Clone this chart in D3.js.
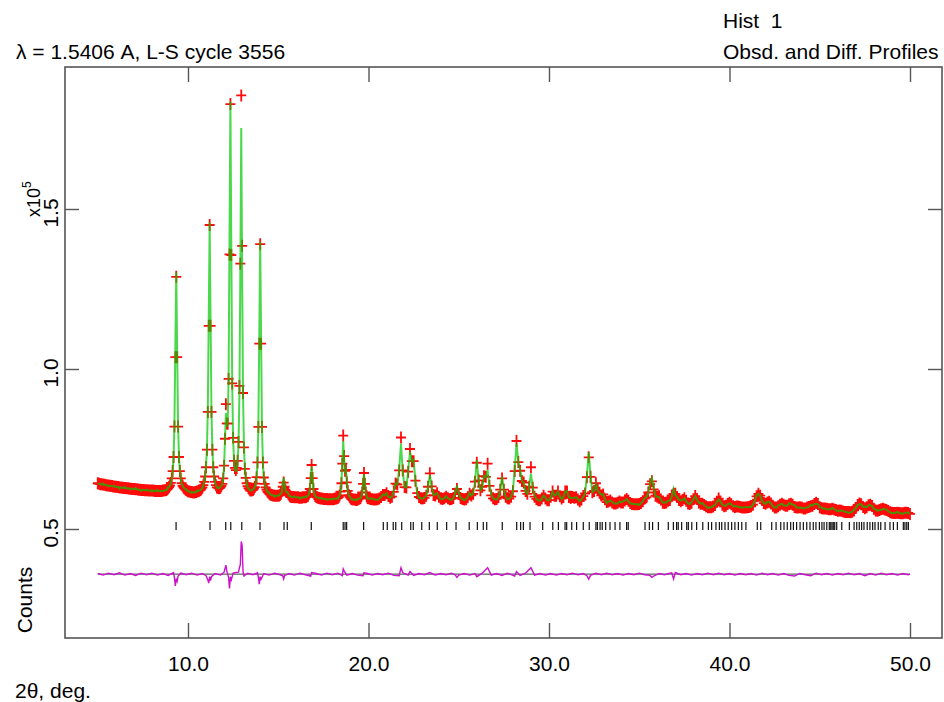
<!DOCTYPE html>
<html>
<head>
  <meta charset="UTF-8">
  <style>
    body { margin: 0; background: #fff; }
    svg { display: block; font-family: "Liberation Sans", Arial, sans-serif; }
  </style>
</head>
<body>
<svg></svg>
<script src="https://d3js.org/d3.v7.min.js"></script>

<script>

let width = 944, height = 702;

let svg = d3.select("svg")
    .attr("width", width)
    .attr("height", height);

// Observed counts (in units of 100 counts), 5.00 - 19.95 deg, step 0.05
let obsLowStart = 5.0, obsLowStep = 0.05;
let obsLow = [
  643, 642, 641, 640, 640, 639, 639, 638, 638, 637, 637, 636, 636, 635, 635, 634, 634, 633, 633, 632,
  632, 632, 631, 631, 630, 630, 630, 629, 629, 628, 628, 628, 627, 627, 627, 626, 626, 626, 625, 625,
  625, 625, 624, 624, 624, 623, 623, 623, 622, 622, 622, 622, 621, 621, 621, 621, 620, 620, 620, 620,
  620, 620, 620, 619, 619, 619, 619, 619, 619, 619, 619, 619, 620, 620, 621, 621, 622, 624, 627, 631,
  636, 644, 658, 681, 725, 820, 1037, 1288, 1037, 820, 725, 681, 658, 643, 635, 630, 627, 624, 622, 620,
  618, 617, 617, 616, 616, 615, 614, 614, 616, 616, 617, 618, 619, 621, 622, 626, 630, 637, 647, 664,
  693, 748, 866, 1135, 1450, 1135, 866, 748, 693, 664, 647, 637, 630, 629, 627, 628, 630, 635, 641, 658,
  698, 782, 890, 830, 829, 969, 1358, 1828, 1356, 955, 785, 713, 691, 684, 691, 713, 772, 947, 1329, 1855,
  1385, 925, 755, 688, 660, 643, 634, 628, 624, 620, 620, 621, 622, 626, 631, 642, 662, 708, 819, 1079,
  1390, 1079, 819, 708, 661, 641, 630, 623, 617, 614, 611, 608, 607, 606, 605, 605, 604, 604, 604, 604,
  604, 605, 607, 610, 618, 632, 645, 632, 621, 616, 616, 611, 607, 602, 601, 600, 600, 600, 599, 599,
  599, 599, 599, 598, 598, 598, 598, 599, 599, 599, 599, 600, 602, 604, 610, 625, 659, 700, 659, 625,
  609, 603, 601, 599, 598, 597, 596, 595, 595, 595, 594, 594, 594, 594, 594, 593, 593, 593, 593, 593,
  593, 593, 594, 595, 595, 596, 597, 600, 605, 617, 643, 704, 792, 728, 682, 685, 646, 619, 606, 601,
  598, 594, 593, 592, 592, 592, 591, 591, 592, 594, 595, 597, 602, 614, 641, 675, 641, 614, 602, 597
];

// Observed counts (in units of 100 counts), 20.0 - 50.0 deg, step 0.1
let obsHighStart = 20.0, obsHighStep = 0.1;
let obsHigh = [
  596, 594, 593, 592, 592, 593, 595, 600, 606, 606,
  612, 603, 598, 601, 616, 642, 639, 683, 786, 683,
  631, 630, 679, 750, 712, 712, 651, 612, 600, 596,
  595, 597, 604, 632, 674, 633, 606, 605, 612, 601,
  595, 594, 596, 601, 596, 593, 594, 597, 610, 625,
  609, 597, 594, 592, 593, 599, 610, 605, 610, 648,
  707, 652, 621, 632, 665, 663, 704, 635, 605, 596,
  593, 594, 599, 623, 658, 623, 601, 596, 595, 601,
  618, 681, 775, 709, 682, 650, 645, 619, 610, 632,
  693, 629, 601, 594, 590, 590, 595, 604, 595, 590,
  590, 601, 617, 604, 604, 617, 602, 595, 600, 617,
  617, 600, 597, 600, 598, 599, 592, 587, 592, 603,
  611, 662, 724, 663, 615, 619, 643, 621, 613, 605,
  608, 593, 584, 586, 589, 583, 580, 580, 582, 586,
  583, 583, 589, 594, 588, 581, 578, 577, 577, 577,
  578, 581, 587, 595, 599, 614, 640, 649, 624, 604,
  601, 602, 592, 582, 581, 583, 588, 591, 605, 610,
  610, 600, 591, 587, 591, 596, 588, 580, 578, 582,
  593, 603, 594, 583, 579, 579, 575, 571, 568, 568,
  568, 570, 575, 585, 595, 586, 576, 571, 573, 578,
  582, 577, 571, 569, 570, 570, 569, 567, 567, 567,
  568, 569, 571, 576, 588, 602, 610, 604, 591, 581,
  579, 583, 585, 580, 573, 567, 567, 571, 576, 579,
  576, 573, 573, 577, 579, 576, 569, 567, 567, 568,
  567, 564, 564, 567, 569, 571, 573, 578, 582, 578,
  568, 565, 564, 564, 563, 562, 562, 563, 561, 559,
  557, 558, 557, 555, 553, 553, 553, 552, 554, 558,
  566, 575, 580, 577, 569, 565, 568, 574, 576, 572,
  563, 558, 557, 559, 562, 563, 561, 559, 556, 552,
  551, 550, 550, 551, 550, 549, 549, 551, 551, 550,
  547
];

// Obsd. - Calc. (units of 100 counts) at data points: [2theta, diff]
let diffPts = [
  [5.0, 2], [5.3, -3], [5.6, 3], [5.9, -2], [6.2, 4], [6.5, -3], [6.8, 2], [7.1, -4], [7.4, 3], [7.7, -2],
  [8.0, 3], [8.3, -3], [8.6, 2], [8.9, -4], [9.2, 5], [9.25, -12], [9.3, -37], [9.35, -14], [9.4, -22],
  [9.45, -6], [9.6, 3], [9.9, -2], [10.2, 3], [10.5, -3], [10.8, 2], [11.0, -5], [11.1, -18], [11.15, -28],
  [11.2, -8], [11.25, -20], [11.3, -8], [11.5, 2], [11.8, -3], [12.0, 6], [12.1, 28], [12.15, 10],
  [12.25, -10], [12.3, -45], [12.35, -8], [12.4, -18], [12.5, 3], [12.65, 5], [12.8, 6], [12.85, 20],
  [12.9, 30], [12.95, 102], [13.0, 90], [13.05, 8], [13.1, -6], [13.3, 3], [13.6, -2], [13.85, 4],
  [13.9, -10], [13.95, -31], [14.0, -8], [14.05, -16], [14.2, 2], [14.5, -3], [14.8, 3], [15.1, -2],
  [15.25, -5], [15.3, -15], [15.35, -5], [15.6, 2], [15.9, -3], [16.2, 3], [16.5, -2], [16.8, -6],
  [16.85, 5], [17.1, 2], [17.4, -3], [17.7, 3], [18.0, -2], [18.3, 3], [18.55, -5], [18.6, 16],
  [18.65, 10], [18.8, -3], [19.1, 2], [19.4, -3], [19.7, -5], [19.75, 4], [19.95, 2], [20.2, -3],
  [20.5, 2], [20.8, -2], [21.1, 3], [21.4, -4], [21.7, -5], [21.8, 20], [21.9, 4], [22.2, -3], [22.3, 8],
  [22.5, -4], [22.8, 2], [23.1, -2], [23.4, 5], [23.7, -3], [24.0, 2], [24.3, -2], [24.6, 3], [24.8, -2],
  [24.9, -10], [25.0, -3], [25.3, 2], [25.6, -3], [25.9, 2], [26.0, -8], [26.3, 3], [26.6, 20], [26.8, -3],
  [27.1, 2], [27.4, -4], [27.7, 3], [28.1, -6], [28.2, 8], [28.4, -4], [28.7, 3], [29.0, 20], [29.2, -3],
  [29.5, 2], [29.8, -3], [30.1, 2], [30.4, -3], [30.7, 2], [31.0, -2], [31.3, 3], [31.6, -2], [31.9, 2],
  [32.1, -5], [32.2, -16], [32.3, -4], [32.6, 3], [32.9, -2], [33.2, 3], [33.5, -2], [33.8, 2], [34.1, -3],
  [34.4, 2], [34.7, -2], [35.0, 3], [35.3, -2], [35.6, -4], [35.7, -10], [35.8, -6], [36.1, 2], [36.4, -2],
  [36.7, 3], [36.8, 4], [36.9, -15], [37.0, 5], [37.3, -2], [37.6, 2], [37.9, -3], [38.2, 2], [38.5, -2],
  [38.8, 3], [39.1, -2], [39.4, 3], [39.7, -2], [40.0, 2], [40.3, -3], [40.6, 2], [40.9, -2], [41.2, 2],
  [41.5, -3], [41.8, 3], [42.1, -2], [42.4, 2], [42.7, -3], [43.0, 2], [43.3, -4], [43.6, -6], [43.9, 2],
  [44.2, -2], [44.5, -5], [44.8, 3], [45.1, -2], [45.4, 2], [45.7, -3], [46.0, 2], [46.3, -2], [46.6, 3],
  [46.9, -2], [47.2, 2], [47.5, -5], [47.8, 2], [48.1, -3], [48.4, 3], [48.7, -2], [49.0, 2], [49.3, -3],
  [49.6, 2], [49.9, -2], [50.0, 0]
];

// reflection positions (2theta, deg)
let reflections = [
  9.34, 11.22, 12.09, 12.37, 12.98, 13.99, 15.32, 15.50, 16.83, 18.60, 18.70, 18.79, 19.73,
  20.82, 21.04, 21.37, 21.51, 21.84, 22.34, 22.48, 22.95, 23.37, 23.81, 24.33, 24.85, 25.58,
  26.03, 26.36, 26.55, 27.41, 28.21, 28.43, 28.58, 28.95, 29.65, 30.21, 30.52, 30.89, 30.98,
  31.26, 31.53, 31.90, 32.23, 32.60, 32.68, 32.83, 32.95, 33.14, 33.38, 33.66, 33.93, 34.30,
  34.39, 35.32, 35.56, 35.74, 36.06, 36.61, 36.89, 37.07, 37.16, 37.35, 37.63, 37.72, 37.91,
  38.18, 38.52, 38.83, 39.01, 39.25, 39.44, 39.57, 39.75, 39.93, 40.12, 40.30, 40.49, 40.68,
  40.91, 41.54, 41.73, 42.34, 42.58, 42.84, 43.02, 43.20, 43.39, 43.54, 43.72, 43.91, 44.09,
  44.28, 44.46, 44.64, 44.79, 44.98, 45.12, 45.24, 45.39, 45.53, 45.61, 45.68, 45.75, 45.83,
  45.94, 46.22, 46.64, 46.90, 47.05, 47.19, 47.32, 47.45, 47.63, 47.78, 47.93, 48.06, 48.24,
  48.38, 48.62, 48.89, 49.08, 49.30, 49.63, 49.72, 49.82, 49.91
];

let xTicks = [10, 20, 30, 40, 50];
let yTicks = [50000, 100000, 150000];
let diffZero = 35900;   // counts level where the difference curve sits

// scales
let x = d3.scaleLinear().domain([3.186, 51.773]).range([65, 942]);
let y = d3.scaleLinear().domain([15938, 194375]).range([638, 67]);

// build the data points
let pts = [];
obsLow.forEach((v, i) => pts.push({ t: +(obsLowStart + i * obsLowStep).toFixed(2), obs: v * 100 }));
obsHigh.forEach((v, i) => pts.push({ t: +(obsHighStart + i * obsHighStep).toFixed(2), obs: v * 100 }));

let diffMap = new Map(diffPts.map(d => [d[0].toFixed(2), d[1] * 100]));
pts.forEach(p => {
  p.calc = p.obs - (diffMap.get(p.t.toFixed(2)) || 0);
});

// observed: red crosses
let csx = 5, csy = 6;
let crossPath = pts.map(p => {
  let px = x(p.t), py = y(p.obs);
  return "M" + (px - csx) + "," + py + "h" + (2 * csx) + "M" + px + "," + (py - csy) + "v" + (2 * csy);
}).join("");

svg.append("path")
    .attr("d", crossPath)
    .attr("fill", "none")
    .attr("stroke", "#ff0a0a")
    .attr("stroke-width", 1.8);

// calculated: green line
svg.append("path")
    .datum(pts)
    .attr("d", d3.line().x(d => x(d.t)).y(d => y(d.calc)))
    .attr("fill", "none")
    .attr("stroke", "#00c800")
    .attr("stroke-opacity", 0.7)
    .attr("stroke-width", 2);

// reflection markers
svg.append("g")
    .selectAll("line")
    .data(reflections)
    .enter()
    .append("line")
    .attr("x1", d => x(d))
    .attr("x2", d => x(d))
    .attr("y1", 522)
    .attr("y2", 530)
    .attr("stroke", "#111")
    .attr("stroke-width", 1.2);

// difference curve
svg.append("line")
    .attr("x1", x(5)).attr("x2", x(50))
    .attr("y1", y(diffZero)).attr("y2", y(diffZero))
    .attr("stroke", "#222")
    .attr("stroke-width", 0.9);

svg.append("path")
    .datum(diffPts)
    .attr("d", d3.line().x(d => x(d[0])).y(d => y(diffZero + d[1] * 100)))
    .attr("fill", "none")
    .attr("stroke", "#cc10cc")
    .attr("stroke-width", 1.4);

// frame
let frameColor = "#555";
svg.append("rect")
    .attr("x", x.range()[0]).attr("y", y.range()[1])
    .attr("width", x.range()[1] - x.range()[0])
    .attr("height", y.range()[0] - y.range()[1])
    .attr("fill", "none")
    .attr("stroke", frameColor)
    .attr("stroke-width", 1.6);

// x axis (ticks inward, bottom and top)
let xAxis = svg.append("g")
    .attr("transform", "translate(0," + y.range()[0] + ")")
    .call(d3.axisBottom(x).tickValues(xTicks).tickSize(-15).tickPadding(18).tickFormat(d3.format(".1f")));
xAxis.select(".domain").remove();
xAxis.selectAll("line").attr("stroke", frameColor).attr("stroke-width", 1.4);
xAxis.selectAll("text").attr("font-size", 21).attr("fill", "#000")
    .attr("font-family", "Liberation Sans, Arial, sans-serif");

let xTop = svg.append("g")
    .attr("transform", "translate(0," + y.range()[1] + ")")
    .call(d3.axisTop(x).tickValues(xTicks).tickSize(-15).tickFormat(""));
xTop.select(".domain").remove();
xTop.selectAll("line").attr("stroke", frameColor).attr("stroke-width", 1.4);

// y axis (ticks inward, left and right)
let yLeft = svg.append("g")
    .attr("transform", "translate(" + x.range()[0] + ",0)")
    .call(d3.axisLeft(y).tickValues(yTicks).tickSize(-14).tickFormat(""));
yLeft.select(".domain").remove();
yLeft.selectAll("line").attr("stroke", frameColor).attr("stroke-width", 1.4);

let yRight = svg.append("g")
    .attr("transform", "translate(" + x.range()[1] + ",0)")
    .call(d3.axisRight(y).tickValues(yTicks).tickSize(-14).tickFormat(""));
yRight.select(".domain").remove();
yRight.selectAll("line").attr("stroke", frameColor).attr("stroke-width", 1.4);

// rotated y tick labels
svg.append("g")
    .selectAll("text")
    .data(yTicks)
    .enter()
    .append("text")
    .attr("transform", d => "translate(58," + (y(d) + 4) + ") rotate(-90)")
    .attr("text-anchor", "middle")
    .attr("font-size", 21)
    .text(d => (d / 1e5).toFixed(1));

// multiplier and axis title
let mult = svg.append("text")
    .attr("transform", "translate(40,217) rotate(-90)")
    .attr("font-size", 18);
mult.append("tspan").text("x10");
mult.append("tspan").attr("dy", -9).attr("font-size", 12).text("5");

svg.append("text")
    .attr("transform", "translate(32,600) rotate(-90)")
    .attr("text-anchor", "middle")
    .attr("font-size", 21)
    .text("Counts");

// headings
svg.append("text")
    .attr("x", 16).attr("y", 59)
    .attr("font-size", 21)
    .text("\u03bb = 1.5406 A, L-S cycle 3556");

svg.append("text")
    .attr("x", 723).attr("y", 28)
    .attr("font-size", 21)
    .style("white-space", "pre")
    .text("Hist  1");

svg.append("text")
    .attr("x", 723).attr("y", 59)
    .attr("font-size", 21)
    .text("Obsd. and Diff. Profiles");

svg.append("text")
    .attr("x", 15).attr("y", 698)
    .attr("font-size", 21)
    .text("2\u03b8, deg.");

</script>

</body>
</html>
